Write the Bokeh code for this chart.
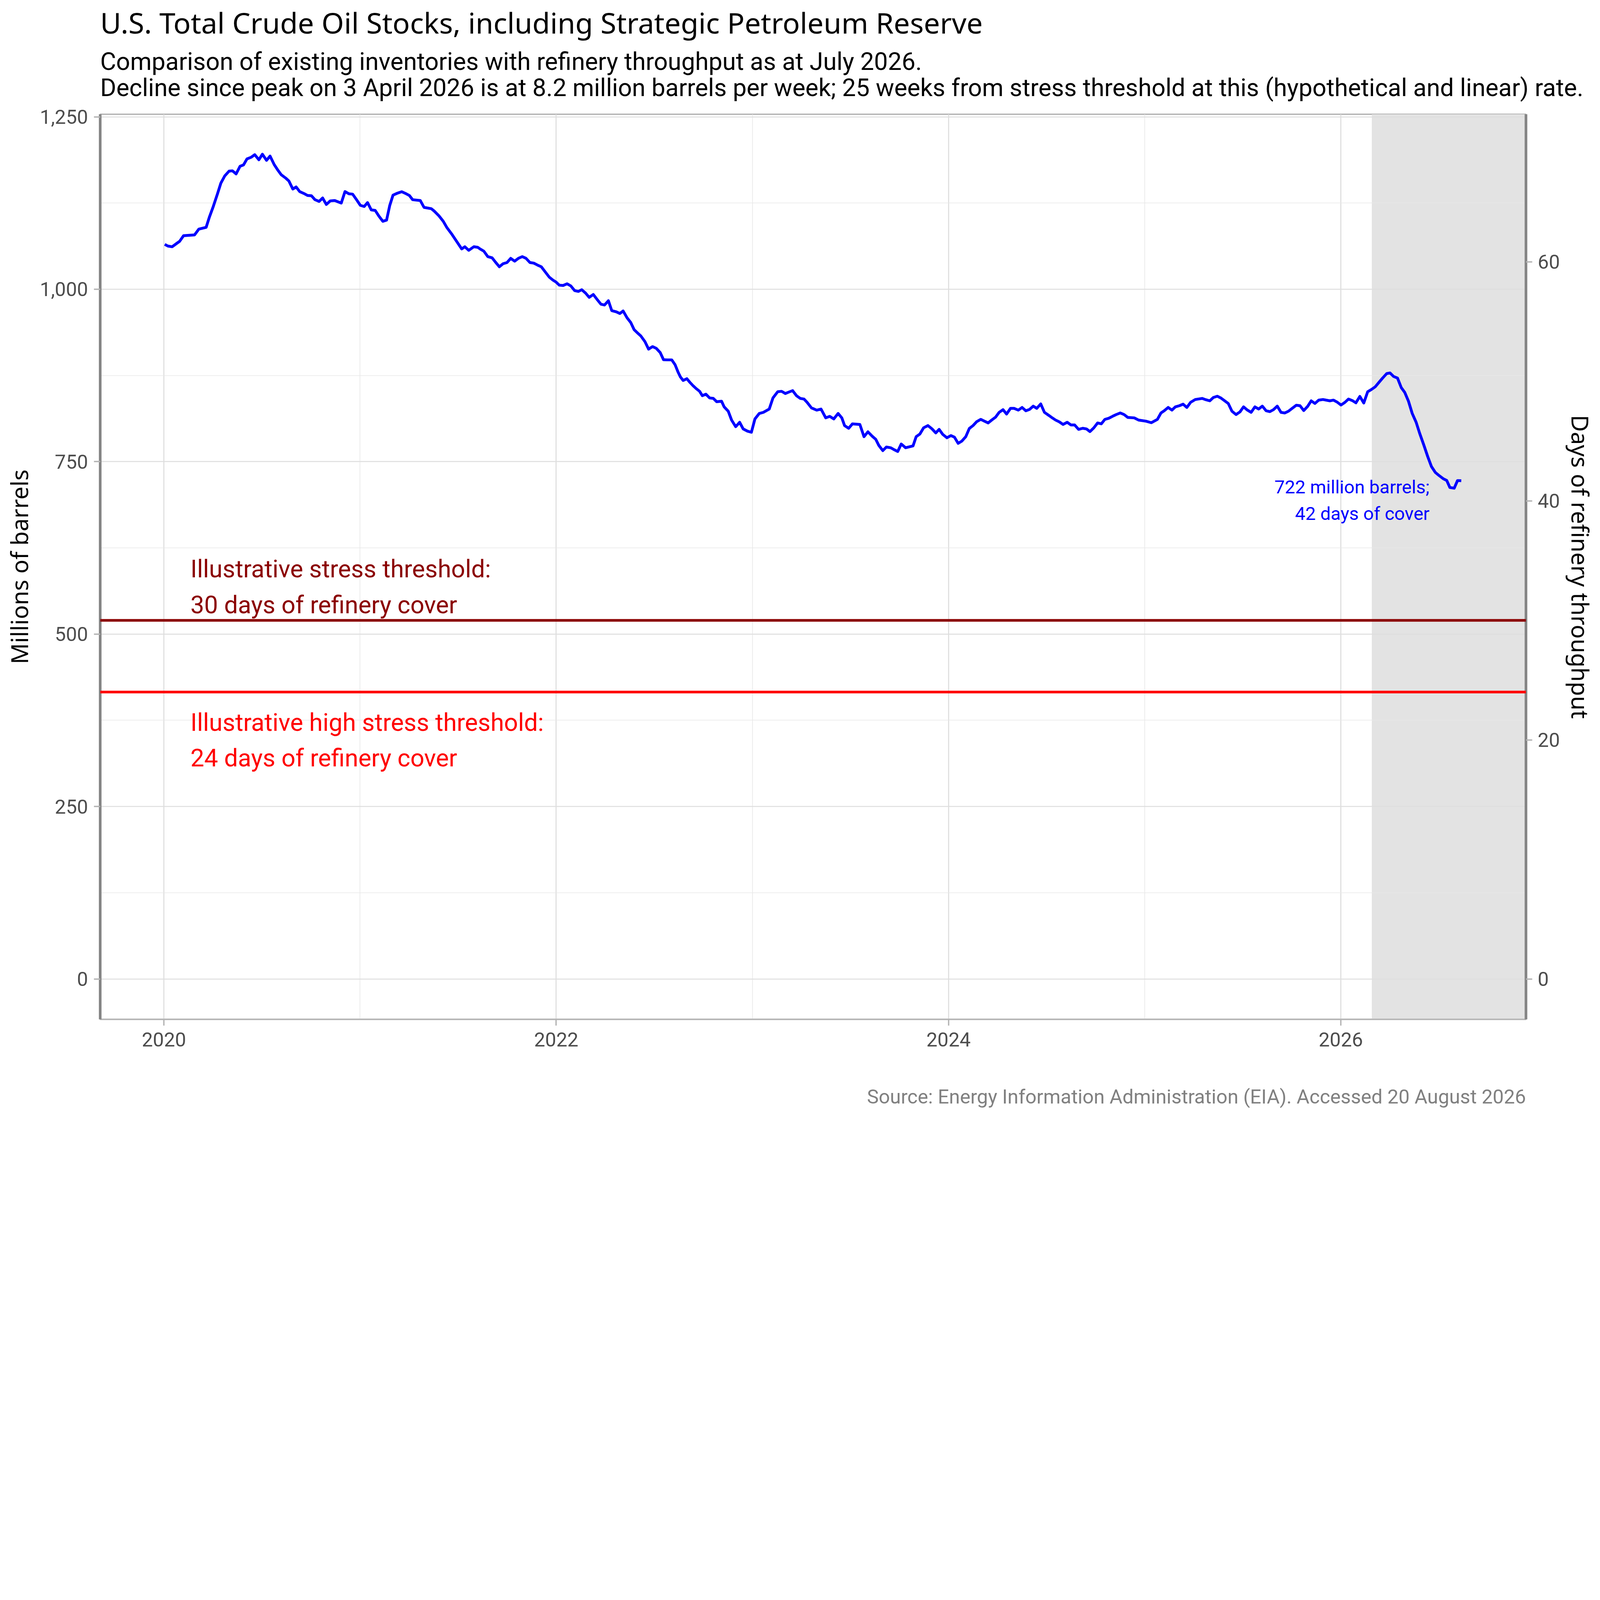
from bokeh.plotting import figure
from bokeh.models import (Range1d, LinearAxis, FixedTicker, Label, Span, Title,
                          BoxAnnotation, NumeralTickFormatter)
from bokeh.embed import file_html
from bokeh.resources import INLINE

# ---------------- data ----------------
week_year = [
    2020.004, 2020.020, 2020.042, 2020.062, 2020.080, 2020.100, 2020.156, 2020.178, 2020.215, 2020.231,
    2020.250, 2020.273, 2020.290, 2020.310, 2020.332, 2020.349, 2020.368, 2020.388, 2020.406, 2020.423,
    2020.445, 2020.463, 2020.484, 2020.502, 2020.523, 2020.541, 2020.562, 2020.579, 2020.598, 2020.621,
    2020.637, 2020.657, 2020.674, 2020.692, 2020.713, 2020.732, 2020.752, 2020.770, 2020.791, 2020.809,
    2020.828, 2020.848, 2020.871, 2020.904, 2020.923, 2020.943, 2020.962, 2020.982, 2021.001, 2021.021,
    2021.038, 2021.057, 2021.077, 2021.095, 2021.116, 2021.135, 2021.151, 2021.168, 2021.190, 2021.212,
    2021.235, 2021.251, 2021.268, 2021.307, 2021.326, 2021.363, 2021.378, 2021.402, 2021.424, 2021.443,
    2021.469, 2021.495, 2021.518, 2021.534, 2021.554, 2021.580, 2021.600,
    2021.612, 2021.631, 2021.651, 2021.673, 2021.690, 2021.710, 2021.729, 2021.749, 2021.768, 2021.788,
    2021.807, 2021.827, 2021.846, 2021.866, 2021.885, 2021.905, 2021.924, 2021.944, 2021.964, 2021.983,
    2021.999, 2022.016, 2022.035, 2022.055, 2022.074, 2022.094, 2022.113, 2022.130, 2022.150, 2022.168,
    2022.189, 2022.207, 2022.228, 2022.246, 2022.266, 2022.283, 2022.306, 2022.324, 2022.341, 2022.361,
    2022.380, 2022.397, 2022.415, 2022.432, 2022.452, 2022.471, 2022.491, 2022.510, 2022.530, 2022.547,
    2022.566, 2022.589,
    2022.606, 2022.622, 2022.633, 2022.647, 2022.666, 2022.682, 2022.698, 2022.714, 2022.731, 2022.745,
    2022.763, 2022.782, 2022.801, 2022.818, 2022.843, 2022.856, 2022.877, 2022.894, 2022.915, 2022.935,
    2022.953, 2022.975, 2022.995, 2023.013, 2023.035, 2023.056, 2023.086, 2023.105, 2023.129, 2023.149,
    2023.168, 2023.187, 2023.205, 2023.225, 2023.244, 2023.263, 2023.279, 2023.301, 2023.328, 2023.350,
    2023.374, 2023.394, 2023.415, 2023.437, 2023.456, 2023.470, 2023.491, 2023.510, 2023.548, 2023.569,
    2023.589, 2023.611, 2023.629, 2023.645, 2023.665, 2023.683, 2023.705, 2023.721, 2023.741, 2023.759,
    2023.781, 2023.819, 2023.835, 2023.854, 2023.873, 2023.895, 2023.916, 2023.935, 2023.952, 2023.971,
    2023.992, 2024.012, 2024.030, 2024.049, 2024.068, 2024.088, 2024.106, 2024.125, 2024.144, 2024.164,
    2024.202, 2024.220, 2024.240, 2024.258, 2024.278, 2024.296, 2024.316, 2024.334, 2024.356, 2024.375,
    2024.394, 2024.413, 2024.432, 2024.450, 2024.470, 2024.489, 2024.508, 2024.526, 2024.546, 2024.565,
    2024.584, 2024.605, 2024.624, 2024.643, 2024.663, 2024.684, 2024.703, 2024.721, 2024.741, 2024.760,
    2024.779, 2024.797, 2024.817, 2024.836, 2024.855, 2024.876, 2024.895, 2024.914, 2024.947, 2024.969,
    2025.007, 2025.034,
    2025.065, 2025.083, 2025.101, 2025.120, 2025.139, 2025.157, 2025.177, 2025.196, 2025.215, 2025.234,
    2025.258, 2025.293, 2025.312, 2025.332, 2025.350, 2025.370, 2025.388, 2025.408, 2025.426, 2025.445,
    2025.466, 2025.486, 2025.504, 2025.524, 2025.543, 2025.562, 2025.581, 2025.600, 2025.619, 2025.638,
    2025.657, 2025.676, 2025.695, 2025.714, 2025.733, 2025.752, 2025.773, 2025.792, 2025.811, 2025.831,
    2025.849, 2025.868, 2025.887, 2025.909, 2025.944, 2025.963, 2025.983, 2026.001, 2026.021, 2026.039,
    2026.059, 2026.077, 2026.097, 2026.117, 2026.137, 2026.156, 2026.175, 2026.194, 2026.213, 2026.234,
    2026.251, 2026.269, 2026.289, 2026.308, 2026.326, 2026.345, 2026.364, 2026.384, 2026.402, 2026.424,
    2026.443, 2026.462, 2026.482, 2026.500, 2026.522, 2026.540, 2026.556, 2026.578, 2026.595, 2026.614,
]

stocks_mb = [
    1065.0, 1062.6, 1061.6, 1065.8, 1069.5, 1077.6, 1078.8, 1087.2, 1089.7, 1104.0,
    1118.7, 1138.4, 1153.7, 1164.3, 1171.2, 1171.7, 1167.2, 1178.3, 1180.3, 1188.9,
    1191.4, 1195.1, 1187.7, 1195.8, 1186.9, 1193.1, 1180.8, 1173.4, 1166.0, 1161.1,
    1156.9, 1145.3, 1148.3, 1141.6, 1138.9, 1136.0, 1135.5, 1129.8, 1127.3, 1132.3,
    1122.9, 1128.1, 1128.6, 1124.9, 1141.6, 1138.4, 1137.9, 1129.8, 1121.7, 1120.0,
    1125.6, 1115.0, 1114.3, 1106.4, 1098.5, 1100.2, 1121.2, 1136.5, 1139.2, 1141.4,
    1138.4, 1136.0, 1129.8, 1128.6, 1118.7, 1116.8, 1113.3, 1106.4, 1098.5, 1089.2,
    1079.3, 1068.2, 1058.4, 1061.6, 1056.4, 1061.6, 1060.8,
    1058.4, 1055.2, 1047.3, 1045.6, 1039.4, 1032.5, 1037.0, 1038.7, 1044.8, 1040.7,
    1044.8, 1047.3, 1044.8, 1038.7, 1037.9, 1035.0, 1032.5, 1025.1, 1017.7, 1013.3,
    1010.4, 1005.9, 1005.4, 1007.9, 1004.9, 998.0, 996.8, 999.3, 994.3, 988.2,
    992.4, 985.7, 978.3, 977.1, 983.3, 969.0, 967.3, 964.8, 968.5, 958.6,
    951.7, 941.4, 936.5, 932.0, 924.2, 913.1, 916.8, 914.3, 908.2, 897.8,
    897.6, 897.6,
    890.5, 879.3, 872.9, 867.7, 870.3, 864.8, 860.0, 855.8, 852.0, 845.6,
    847.8, 842.4, 841.7, 836.9, 837.6, 829.5, 823.1, 810.3, 800.7, 807.1,
    797.5, 794.2, 792.6, 811.9, 819.9, 821.5, 826.3, 842.4, 851.4, 852.0,
    848.8, 851.0, 853.0, 845.6, 841.7, 840.8, 836.0, 828.0, 824.7, 826.3,
    813.5, 815.7, 811.9, 819.9, 813.5, 802.3, 798.4, 804.8, 803.9, 786.2,
    793.3, 786.9, 782.4, 773.4, 766.0, 771.2, 770.2, 767.6, 764.7, 775.6,
    770.2, 772.8, 786.2, 790.1, 799.1, 802.3, 797.5, 791.7, 796.8, 789.4,
    784.6, 787.8, 785.6, 776.6, 779.8, 786.2, 798.1, 802.3, 808.1, 811.3,
    806.1, 810.3, 814.5, 821.5, 825.4, 819.0, 827.3, 827.3, 824.7, 828.6,
    823.8, 825.7, 830.5, 827.3, 833.7, 821.5, 817.7, 814.1, 810.3, 807.7,
    803.9, 807.1, 803.2, 803.2, 796.8, 798.4, 797.5, 793.6, 799.1, 806.1,
    804.8, 811.3, 812.9, 815.7, 818.3, 820.6, 818.3, 814.1, 813.5, 810.3,
    808.7, 806.5,
    811.3, 820.6, 824.1, 828.6, 824.7, 829.5, 831.1, 833.4, 828.6, 836.0,
    840.1, 841.7, 839.8, 838.2, 843.0, 844.9, 842.4, 838.2, 834.4, 823.1,
    818.3, 822.2, 829.5, 824.7, 821.5, 829.5, 826.3, 830.5, 823.8, 822.5,
    825.4, 830.5, 821.5, 820.6, 823.1, 827.3, 831.8, 831.1, 824.1, 830.2,
    838.2, 834.4, 839.2, 840.1, 838.2, 839.2, 836.0, 832.1, 836.0, 840.8,
    838.5, 835.3, 844.6, 835.0, 851.4, 854.6, 858.4, 864.8, 871.2, 877.7,
    878.6, 873.5, 871.2, 857.5, 850.4, 837.6, 819.9, 807.1, 791.1, 773.4,
    757.4, 743.0, 734.3, 730.1, 725.3, 722.7, 712.5, 711.5, 722.6, 722.4,
]

refinery_throughput_mbpd = 17.33          # million barrels per day
threshold_days = [30, 24]
threshold_colors = ["#8b0000", "#ff0000"]
threshold_text = [
    ["Illustrative stress threshold:", "30 days of refinery cover"],
    ["Illustrative high stress threshold:", "24 days of refinery cover"],
]
threshold_text_year = 2020.135
shade_start_year = 2026.158

x_ticks = [2020, 2022, 2024, 2026]
x_minor_ticks = [2021, 2023, 2025]
y_ticks = [0, 250, 500, 750, 1000, 1250]
y_minor_ticks = [125, 375, 625, 875, 1125]
day_ticks = [0, 20, 40, 60]

title_text = "U.S. Total Crude Oil Stocks, including Strategic Petroleum Reserve"
subtitle_lines = [
    "Comparison of existing inventories with refinery throughput as at July 2026.",
    "Decline since peak on 3 April 2026 is at 8.2 million barrels per week; 25 weeks from stress threshold at this (hypothetical and linear) rate.",
]
caption_text = "Source: Energy Information Administration (EIA). Accessed 20 August 2026"

# ---------------- figure ----------------
S = 4096 / 6000.0          # overall scale of all pixel sizes


def px(v):
    return f"{v * S:.1f}px"


W, H = 4096, 2867
ML, MR, MT, MB = 256, 190, 292, 258

y_lo, y_hi = -58.6, 1253.7
p = figure(width=W, height=H, output_backend="svg", toolbar_location=None, title=None,
           x_range=Range1d(2019.675, 2026.944), y_range=Range1d(y_lo, y_hi),
           min_border_left=ML, min_border_right=MR, min_border_top=MT, min_border_bottom=MB,
           background_fill_color="white", border_fill_color="white")
p.outline_line_color = "#b3b3b3"
p.outline_line_width = 5 * S

p.extra_y_ranges = {"days": Range1d(y_lo / refinery_throughput_mbpd, y_hi / refinery_throughput_mbpd)}
right_axis = LinearAxis(y_range_name="days", ticker=FixedTicker(ticks=day_ticks),
                        axis_label="Days of refinery throughput")
p.add_layout(right_axis, "right")

xaxis = p.below[0]
yaxis = p.left[0]
xaxis.ticker = FixedTicker(ticks=x_ticks, minor_ticks=x_minor_ticks)
yaxis.ticker = FixedTicker(ticks=y_ticks, minor_ticks=y_minor_ticks)
yaxis.formatter = NumeralTickFormatter(format="0,0")
yaxis.axis_label = "Millions of barrels"

for ax in (xaxis, yaxis, right_axis):
    ax.major_label_text_font = "Roboto"
    ax.major_label_text_font_size = px(74)
    ax.major_label_text_color = "#4d4d4d"
    ax.major_tick_out = 16
    ax.major_tick_in = 0
    ax.major_tick_line_color = "#b3b3b3"
    ax.major_tick_line_width = 5 * S
    ax.minor_tick_line_color = None
    ax.axis_label_text_font = "Noto Sans"
    ax.axis_label_text_font_size = px(87)
    ax.axis_label_text_font_style = "normal"
    ax.axis_label_text_color = "black"

xaxis.axis_line_color = "#b3b3b3"
xaxis.axis_line_width = 5 * S
xaxis.major_label_standoff = 17
yaxis.major_label_standoff = 15
right_axis.major_label_standoff = 14
for ax in (yaxis, right_axis):
    ax.axis_line_color = "#858585"
    ax.axis_line_width = 10 * S
    ax.axis_label_standoff = 10

for g in (p.xgrid[0], p.ygrid[0]):
    g.grid_line_color = "#dedede"
    g.grid_line_width = 4 * S
    g.minor_grid_line_color = "#e8e8e8"
    g.minor_grid_line_width = 2.5 * S

# shaded recent period (drawn beneath the grid)
p.add_layout(BoxAnnotation(left=shade_start_year, fill_color="#e3e3e3", fill_alpha=1.0,
                           line_color=None, level="image"))

# threshold lines and their labels (offsets are to the text centre)
offsets = [(193, 58), (-114, -248)]
for d, c, txt, off in zip(threshold_days, threshold_colors, threshold_text, offsets):
    level_mb = d * refinery_throughput_mbpd
    p.add_layout(Span(location=level_mb, dimension="width", line_color=c, line_width=10 * S))
    for t, o in zip(txt, off):
        p.add_layout(Label(x=threshold_text_year, y=level_mb, y_offset=o * S, text=t,
                           text_font="Roboto", text_font_size=px(92), text_color=c,
                           text_align="left", text_baseline="middle"))

# stock series
p.line(week_year, stocks_mb, line_color="#0000ff", line_width=10.5 * S, line_join="round")

# end-point annotation
last_mb = stocks_mb[-1]
ann = [f"{last_mb:.0f} million barrels;", f"{last_mb / refinery_throughput_mbpd:.0f} days of cover"]
for t, o in zip(ann, (-24, -123)):
    p.add_layout(Label(x=week_year[-1], y=last_mb, x_offset=-119 * S, y_offset=o * S, text=t,
                       text_font="Roboto", text_font_size=px(69), text_color="#0000ff",
                       text_align="right", text_baseline="middle"))

# titles (stacked outward from the frame) and caption


def spacer(gap):
    return Title(text=" ", text_font_size="1px", standoff=int(round(gap)))


p.add_layout(spacer(28), "above")
p.add_layout(Title(text="\n".join(subtitle_lines), align="left", vertical_align="bottom", standoff=0,
                   text_font="Roboto", text_font_size=px(92), text_font_style="normal",
                   text_color="black", text_line_height=0.918), "above")
p.add_layout(spacer(9), "above")
p.add_layout(Title(text=title_text, align="left", vertical_align="bottom", standoff=0,
                   text_font="Noto Sans", text_font_size=px(108), text_font_style="normal",
                   text_color="black"), "above")

p.add_layout(spacer(93), "below")
p.add_layout(Title(text=caption_text, align="right", vertical_align="top", standoff=0,
                   text_font="Roboto", text_font_size=px(74), text_font_style="normal",
                   text_color="#808080"), "below")

open("out.html", "w").write(file_html(p, INLINE))
